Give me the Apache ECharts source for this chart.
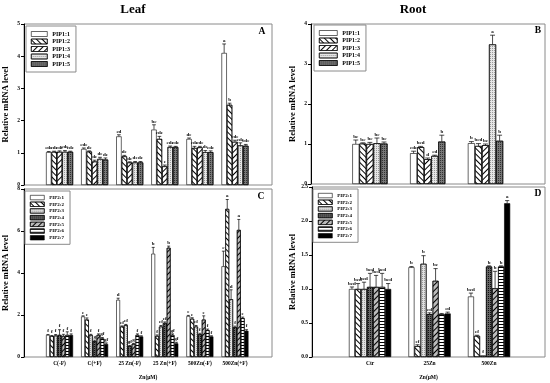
<!DOCTYPE html>
<html><head><meta charset="utf-8">
<script src="https://cdn.jsdelivr.net/npm/echarts@6/dist/echarts.min.js"></script>
<style>html,body{margin:0;padding:0;background:#fff}#c{width:550px;height:383px}</style>
</head><body><div id="c"></div>
<script>
// ---------- DATA ----------
const leafCategories = ['C(-F)', 'C(+F)', '25 Zn(-F)', '25 Zn(+F)', '500Zn(-F)', '500Zn(+F)'];
const rootCategories = ['Ctr', '25Zn', '500Zn'];
const pip1Names = ['PIP1:1', 'PIP1:2', 'PIP1:3', 'PIP1:4', 'PIP1:5'];
const pip2Names = ['PIP2:1', 'PIP2:2', 'PIP2:3', 'PIP2:4', 'PIP2:5', 'PIP2:6', 'PIP2:7'];

// Panel A (leaf, PIP1) — one row per gene, one value per treatment
const leafPip1Values = [
  [1.02, 1.12, 1.51, 1.72, 1.43, 4.10],
  [1.03, 1.04, 0.89, 1.43, 1.15, 2.49],
  [1.03, 0.73, 0.70, 0.58, 1.17, 1.34],
  [1.03, 0.81, 0.70, 1.18, 1.02, 1.23],
  [1.03, 0.79, 0.70, 1.18, 1.02, 1.22]
];
const leafPip1Errors = [
  [0.02, 0.03, 0.05, 0.15, 0.03, 0.28],
  [0.02, 0.02, 0.03, 0.08, 0.05, 0.05],
  [0.03, 0.04, 0.02, 0.04, 0.03, 0.05],
  [0.04, 0.05, 0.03, 0.03, 0.05, 0.08],
  [0.02, 0.05, 0.03, 0.02, 0.04, 0.04]
];
const leafPip1Letters = [
  ['cde', 'cde', 'cd', 'bc', 'de', 'a'],
  ['cde', 'de', 'de', 'cde', 'cde', 'b'],
  ['cde', 'de', 'de', 'e', 'cde', 'cde'],
  ['cde', 'de', 'de', 'cde', 'de', 'cde'],
  ['cde', 'de', 'de', 'cde', 'cde', 'cde']
];

// Panel B (root, PIP1)
const rootPip1Values = [
  [1.00, 0.77, 1.02],
  [1.01, 0.92, 0.95],
  [1.00, 0.62, 0.97],
  [1.02, 0.70, 3.49],
  [1.01, 1.06, 1.08]
];
const rootPip1Errors = [
  [0.10, 0.05, 0.04],
  [0.02, 0.02, 0.06],
  [0.04, 0.03, 0.03],
  [0.13, 0.02, 0.23],
  [0.04, 0.16, 0.14]
];
const rootPip1Letters = [
  ['bc', 'cde', 'b'],
  ['bc', 'bcd', 'bcd'],
  ['bc', 'd', 'bc'],
  ['bc', 'cd', 'a'],
  ['bc', 'b', 'b']
];

// Panel C (leaf, PIP2)
const leafPip2Values = [
  [1.05, 1.93, 2.72, 4.92, 1.95, 4.32],
  [1.00, 1.78, 1.45, 1.00, 1.82, 7.05],
  [1.02, 1.05, 1.52, 1.45, 1.45, 2.75],
  [1.05, 0.75, 0.52, 1.62, 1.08, 1.42],
  [1.00, 1.05, 0.62, 5.20, 1.78, 6.05],
  [1.05, 0.88, 1.05, 1.05, 1.28, 1.85],
  [1.05, 0.62, 0.98, 0.65, 0.98, 1.25]
];
const leafPip2Errors = [
  [0.02, 0.03, 0.08, 0.30, 0.03, 0.72],
  [0.02, 0.08, 0.03, 0.05, 0.05, 0.45],
  [0.05, 0.03, 0.03, 0.05, 0.05, 0.45],
  [0.25, 0.05, 0.03, 0.05, 0.05, 0.05],
  [0.08, 0.05, 0.03, 0.08, 0.18, 0.50],
  [0.15, 0.05, 0.05, 0.05, 0.05, 0.05],
  [0.05, 0.05, 0.03, 0.05, 0.03, 0.05]
];
const leafPip2Letters = [
  ['f', 'e', 'd', 'b', 'e', 'c'],
  ['f', 'e', 'ef', 'f', 'e', 'a'],
  ['f', 'f', 'ef', 'ef', 'ef', 'd'],
  ['f', 'g', 'gf', 'ef', 'f', 'f'],
  ['f', 'f', 'g', 'b', 'e', 'a'],
  ['f', 'gf', 'f', 'gf', 'f', 'e'],
  ['f', 'gf', 'f', 'gf', 'f', 'f']
];

// Panel D (root, PIP2)
const rootPip2Values = [
  [1.00, 1.32, 0.89],
  [1.00, 0.16, 0.31],
  [1.00, 1.37, 0.02],
  [1.03, 0.63, 1.33],
  [1.03, 1.12, 1.01],
  [1.03, 0.63, 1.33],
  [1.00, 0.64, 2.26]
];
const rootPip2Errors = [
  [0.03, 0.01, 0.05],
  [0.08, 0.02, 0.01],
  [0.10, 0.12, 0.00],
  [0.20, 0.02, 0.01],
  [0.17, 0.18, 0.25],
  [0.20, 0.01, 0.01],
  [0.08, 0.02, 0.04]
];
const rootPip2Letters = [
  ['bcd', 'b', 'bcd'],
  ['bcd', 'ef', 'ef'],
  ['bcd', 'b', 'f'],
  ['bcd', 'cd', 'b'],
  ['bcd', 'bc', 'b'],
  ['bcd', '', 'b'],
  ['bcd', 'cd', 'a']
];

// Y tick labels
const leafPip1Ticks = [0, 1, 2, 3, 4, 5];
const rootPip1Ticks = [0, 1, 2, 3, 4];
const leafPip2Ticks = [0, 2, 4, 6, 8];
const rootPip2Ticks = [0.0, 0.5, 1.0, 1.5, 2.0, 2.5];

// ---------- STYLES ----------
const SERIF = '"Liberation Serif", "DejaVu Serif", serif';
const dBack = {symbol: 'rect', symbolSize: 1, dashArrayX: [1, 0], dashArrayY: [1, 2.2], rotation: Math.PI / 4, color: '#000'};
const dFwd = {symbol: 'rect', symbolSize: 1, dashArrayX: [1, 0], dashArrayY: [1, 2.6], rotation: -Math.PI / 4, color: '#000'};
const dDotsLight = {symbol: 'rect', symbolSize: 1, dashArrayX: [1, 1], dashArrayY: [1, 1], color: '#999'};
const dDotsDark = {symbol: 'rect', symbolSize: 1, dashArrayX: [1, 1], dashArrayY: [1, 1], color: '#333'};
const dHoriz = {symbol: 'rect', symbolSize: 1, dashArrayX: [1, 0], dashArrayY: [1, 1.6], color: '#000'};
const dCross = {symbol: 'rect', symbolSize: 1, dashArrayX: [1, 1], dashArrayY: [1, 1], color: '#111'};

const pip1Styles = [
  {color: '#fff'},
  {color: '#fff', decal: dBack},
  {color: '#fff', decal: dFwd},
  {color: '#e6e6e6', decal: dDotsLight},
  {color: '#777', decal: dDotsDark}
];
const pip2Styles = [
  {color: '#fff'},
  {color: '#fff', decal: dBack},
  {color: '#e0e0e0', decal: dDotsLight},
  {color: '#666', decal: dCross},
  {color: '#bbb', decal: dFwd},
  {color: '#fff', decal: dHoriz},
  {color: '#000'}
];

// ---------- LAYOUT ----------
const frames = [
  {left: 24, right: 278, top: 24, bottom: 198},   // A
  {left: 311, right: 5, top: 24, bottom: 199},    // B
  {left: 24, right: 278, top: 189, bottom: 26},   // C
  {left: 312, right: 5, top: 187, bottom: 26}     // D
];
const inners = [
  {left: 42, right: 297.5, top: 24, bottom: 198},
  {left: 341, right: 35.6, top: 24, bottom: 199},
  {left: 42, right: 297.5, top: 189, bottom: 26},
  {left: 340.3, right: 31.2, top: 187, bottom: 26}
];
const panels = [
  {cats: leafCategories, names: pip1Names, styles: pip1Styles, vals: leafPip1Values, errs: leafPip1Errors, lets: leafPip1Letters, ticks: leafPip1Ticks, gap: 0.23, showX: false, fmt: v => String(v)},
  {cats: rootCategories, names: pip1Names, styles: pip1Styles, vals: rootPip1Values, errs: rootPip1Errors, lets: rootPip1Letters, ticks: rootPip1Ticks, gap: 0.39, showX: false, fmt: v => String(v)},
  {cats: leafCategories, names: pip2Names, styles: pip2Styles, vals: leafPip2Values, errs: leafPip2Errors, lets: leafPip2Letters, ticks: leafPip2Ticks, gap: 0.23, showX: true, fmt: v => String(v)},
  {cats: rootCategories, names: pip2Names, styles: pip2Styles, vals: rootPip2Values, errs: rootPip2Errors, lets: rootPip2Letters, ticks: rootPip2Ticks, gap: 0.29, showX: true, fmt: v => v.toFixed(1)}
];

const grid = [], xAxis = [], yAxis = [], series = [];
frames.forEach((f, i) => {
  grid.push(Object.assign({show: true, borderColor: '#8a8a8a', borderWidth: 1, backgroundColor: 'transparent', containLabel: false, outerBoundsMode: 'none'}, f));
  xAxis.push({gridIndex: i, type: 'value', min: 0, max: 1,
    axisLine: {show: false}, axisTick: {show: false}, axisLabel: {show: false}, splitLine: {show: false},
    name: panels[i].showX ? 'Zn(μM)' : '', nameLocation: 'middle', nameGap: 18,
    nameTextStyle: {fontSize: 5.5, fontWeight: 'bold', fontFamily: SERIF, color: '#000'}});
  yAxis.push({gridIndex: i, type: 'value', min: 0, max: 1, show: false});
});
inners.forEach((g, i) => {
  const p = panels[i];
  const gi = grid.length;
  grid.push(Object.assign({show: false, containLabel: false, outerBoundsMode: 'none'}, g));
  xAxis.push({gridIndex: gi, type: 'category', data: p.cats,
    axisLine: {show: false}, axisTick: {show: false},
    axisLabel: {show: p.showX, fontSize: 5.5, fontWeight: 'bold', fontFamily: SERIF, color: '#000', margin: 4, interval: 0}});
  yAxis.push({gridIndex: gi, type: 'value', min: p.ticks[0], max: p.ticks[p.ticks.length - 1],
    interval: p.ticks[1] - p.ticks[0], offset: g.left - frames[i].left,
    axisLine: {show: true, lineStyle: {color: '#000', width: 1}},
    axisTick: {show: true, length: 3, inside: false, lineStyle: {color: '#000'}},
    splitLine: {show: false},
    axisLabel: {fontSize: 5.5, fontWeight: 'bold', fontFamily: SERIF, color: '#000', margin: 4, formatter: p.fmt},
    name: 'Relative mRNA level', nameLocation: 'middle', nameRotate: 90, nameGap: 14,
    nameTextStyle: {fontSize: 8.5, fontWeight: 'bold', fontFamily: SERIF, color: '#000'}});

  const n = p.names.length;
  p.names.forEach((nm, s) => {
    series.push({type: 'bar', name: nm, xAxisIndex: gi, yAxisIndex: gi, data: p.vals[s],
      barGap: '0%', barCategoryGap: (p.gap * 100) + '%',
      itemStyle: Object.assign({borderColor: '#000', borderWidth: 0.6}, p.styles[s]), z: 2});
  });
  p.names.forEach((nm, s) => {
    const letters = p.lets[s];
    const data = p.vals[s].map((v, k) => [k, v, p.errs[s][k]]);
    series.push({type: 'custom', name: 'err' + i + '_' + s, xAxisIndex: gi, yAxisIndex: gi, data: data,
      encode: {x: 0, y: 1}, silent: true, z: 5,
      renderItem: (params, api) => {
        const cat = api.value(0), v = api.value(1), e = api.value(2);
        const band = api.size([1, 0])[0];
        const groupW = band * (1 - p.gap);
        const barW = groupW / n;
        const base = api.coord([cat, v]);
        const x = base[0] - groupW / 2 + (s + 0.5) * barW;
        const yTop = api.coord([cat, v + e])[1];
        const cap = Math.max(barW * 0.35, 1.5);
        const children = [];
        if (e > 0) {
          children.push({type: 'line', shape: {x1: x, y1: base[1], x2: x, y2: yTop}, style: {stroke: '#000', lineWidth: 0.7}});
          children.push({type: 'line', shape: {x1: x - cap, y1: yTop, x2: x + cap, y2: yTop}, style: {stroke: '#000', lineWidth: 0.7}});
        }
        const letter = letters[params.dataIndex];
        if (letter) {
          children.push({type: 'text', style: {text: letter, x: x, y: yTop - 1, align: 'center', verticalAlign: 'bottom',
            fontSize: 5, fontWeight: 'bold', fontFamily: SERIF, fill: '#000'}});
        }
        return {type: 'group', children: children};
      }});
  });
});

const legendBase = {orient: 'vertical', selectedMode: false, borderColor: '#8a8a8a', borderWidth: 1,
  itemStyle: {borderColor: '#000', borderWidth: 0.6}, icon: 'rect'};
const legend = [
  Object.assign({}, legendBase, {left: 26, top: 26, data: pip1Names, itemWidth: 16, itemHeight: 5, itemGap: 1.5, padding: [5, 6, 5, 5],
    textStyle: {fontSize: 6, fontWeight: 'bold', fontFamily: SERIF, color: '#000'}}),
  Object.assign({}, legendBase, {left: 314, top: 25, data: pip1Names, itemWidth: 18, itemHeight: 5, itemGap: 1.5, padding: [5, 6, 5, 5],
    textStyle: {fontSize: 6, fontWeight: 'bold', fontFamily: SERIF, color: '#000'}}),
  Object.assign({}, legendBase, {left: 25, top: 191, data: pip2Names, itemWidth: 14, itemHeight: 4.5, itemGap: 1.6, padding: [4, 6, 4, 5],
    textStyle: {fontSize: 5, fontWeight: 'bold', fontFamily: SERIF, color: '#000'}}),
  Object.assign({}, legendBase, {left: 313, top: 189, data: pip2Names, itemWidth: 14, itemHeight: 4.5, itemGap: 1.6, padding: [4, 6, 4, 5],
    textStyle: {fontSize: 5, fontWeight: 'bold', fontFamily: SERIF, color: '#000'}})
];

function label(txt, x, y, size) {
  return {type: 'text', x: x, y: y, z: 100,
    style: {text: txt, fontSize: size, fontWeight: 'bold', fontFamily: SERIF, fill: '#000', align: 'center', textAlign: 'center', verticalAlign: 'middle', textVerticalAlign: 'middle'}};
}

const chart = echarts.init(document.getElementById('c'), null, {renderer: 'canvas'});
chart.setOption({
  animation: false,
  backgroundColor: '#fff',
  grid: grid, xAxis: xAxis, yAxis: yAxis, series: series, legend: legend,
  graphic: {elements: [
    label('Leaf', 133, 10, 13),
    label('Root', 413, 10, 13),
    label('A', 262, 32, 9.5),
    label('B', 538, 31, 9.5),
    label('C', 261, 197, 9.5),
    label('D', 538, 194, 9.5)
  ]}
});
</script>
</body></html>
